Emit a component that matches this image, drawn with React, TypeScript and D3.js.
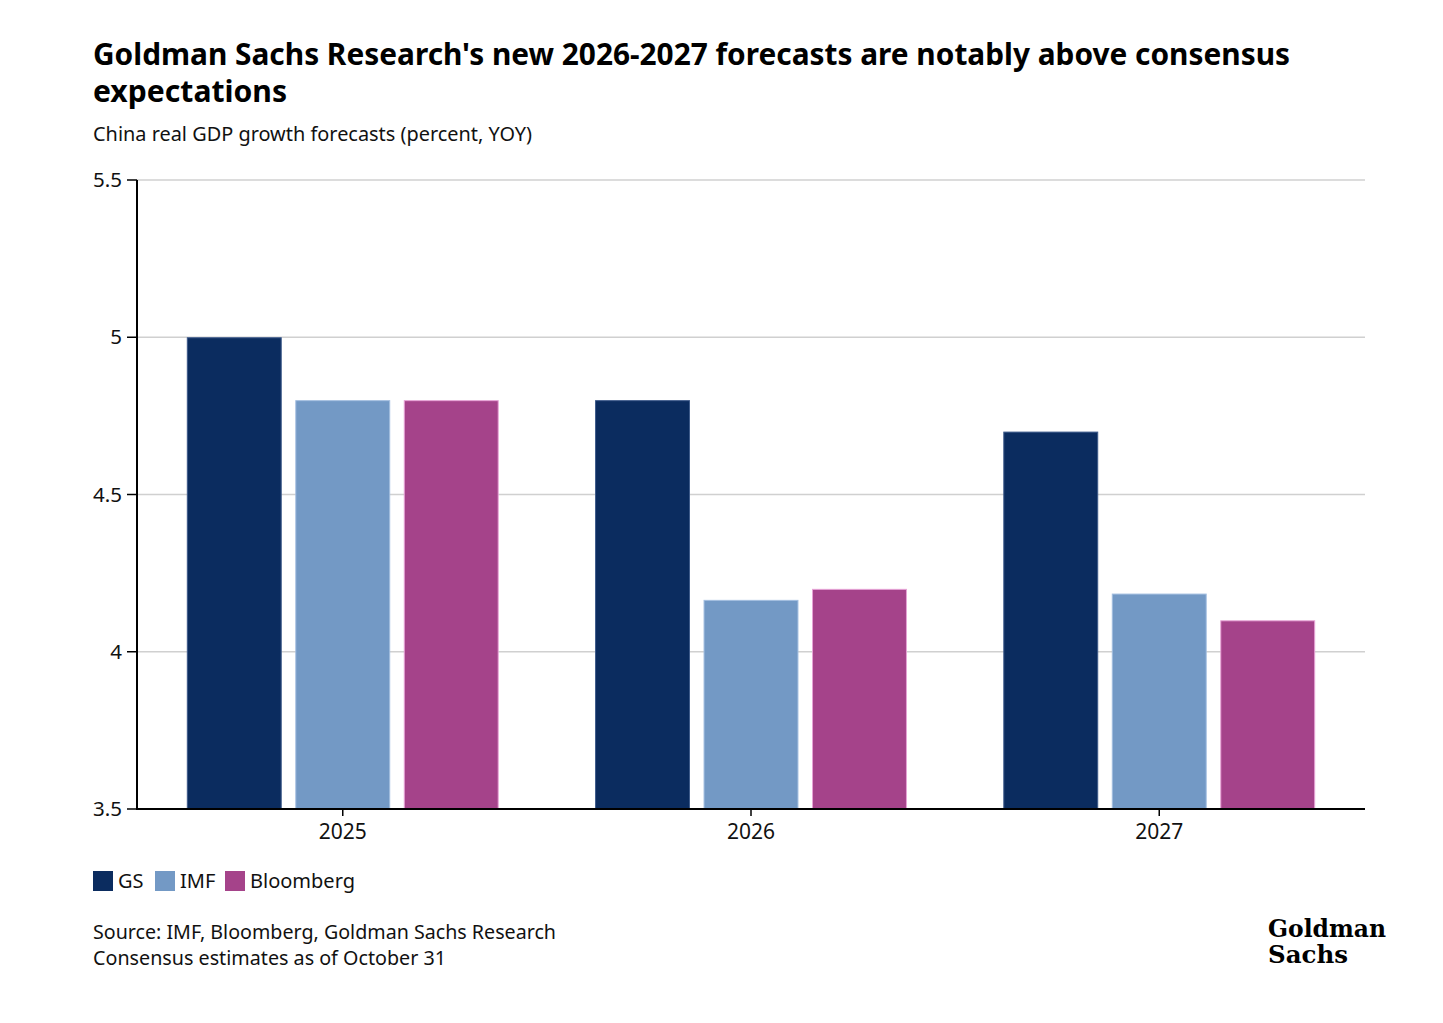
import * as d3 from 'd3';

const years = ['2025', '2026', '2027'];
const seriesNames = ['GS', 'IMF', 'Bloomberg'];
const gsValues = [5.0, 4.8, 4.7];
const imfValues = [4.8, 4.165, 4.185];
const bloombergValues = [4.8, 4.2, 4.1];
const yTicks = [3.5, 4, 4.5, 5, 5.5];

const colours = ['#0b2c5f', '#7399c5', '#a5438a'];
const strokes = ['#3d5a8a', '#a3bee0', '#e7a3d6'];

const W = 1443;
const H = 1023;
const margin = { top: 180, right: 78, bottom: 214, left: 137 };
const font = '"Noto Sans", sans-serif';

export default function App(): JSX.Element {
  const values = [gsValues, imfValues, bloombergValues];

  const x0 = d3.scaleBand<string>()
    .domain(years)
    .range([margin.left, W - margin.right])
    .paddingInner(0.236)
    .paddingOuter(0.122);

  const x1 = d3.scaleBand<string>()
    .domain(seriesNames)
    .range([0, x0.bandwidth()])
    .paddingInner(0.125);

  const y = d3.scaleLinear()
    .domain([3.5, 5.5])
    .range([H - margin.bottom, margin.top]);

  const base = H - margin.bottom;

  // legend label widths (approx, px) to space the swatches
  const legendWidths = [25, 33, 104];

  return (
    <div style={{ position: 'absolute', left: 0, top: 0 }}>
      <svg width={W} height={H} style={{ display: 'block', background: '#fff' }}>
        {/* Title block */}
        <text x={93} y={65} fontFamily={font} fontWeight={700} fontSize={30}
          textLength={1197} lengthAdjust="spacingAndGlyphs" fill="#000">
          Goldman Sachs Research's new 2026-2027 forecasts are notably above consensus
        </text>
        <text x={93} y={102} fontFamily={font} fontWeight={700} fontSize={30}
          textLength={194} lengthAdjust="spacingAndGlyphs" fill="#000">
          expectations
        </text>
        <text x={93} y={141} fontFamily={font} fontSize={20}
          textLength={439} lengthAdjust="spacingAndGlyphs" fill="#111">
          China real GDP growth forecasts (percent, YOY)
        </text>

        {/* Gridlines and y axis */}
        {yTicks.map(t => (
          <g key={t} transform={`translate(0,${y(t)})`}>
            <line x1={margin.left} x2={W - margin.right} stroke="#d0d0d0" strokeWidth={1.5} />
            <line x1={margin.left - 10} x2={margin.left} stroke="#000" strokeWidth={1.5} />
            <text x={margin.left - 15} dy="0.35em" textAnchor="end"
              fontFamily={font} fontSize={20.5} fill="#111">
              {String(t)}
            </text>
          </g>
        ))}

        {/* Bars */}
        {years.map((yr, i) => (
          <g key={yr} transform={`translate(${x0(yr)},0)`}>
            {seriesNames.map((s, j) => {
              const v = values[j][i];
              return (
                <rect
                  key={s}
                  x={(x1(s) ?? 0) + 0.5}
                  y={y(v) + 0.5}
                  width={x1.bandwidth() - 1}
                  height={base - y(v) - 0.5}
                  fill={colours[j]}
                  stroke={strokes[j]}
                  strokeWidth={1}
                />
              );
            })}
          </g>
        ))}

        {/* Axes lines */}
        <line x1={margin.left} x2={margin.left} y1={margin.top} y2={base} stroke="#000" strokeWidth={2} />
        <line x1={margin.left - 1} x2={W - margin.right} y1={base} y2={base} stroke="#000" strokeWidth={2} />
        {years.map(yr => {
          const cx = (x0(yr) ?? 0) + x0.bandwidth() / 2;
          return (
            <g key={yr} transform={`translate(${cx},${base})`}>
              <line y2={7} stroke="#000" strokeWidth={1.5} />
              <text y={30} textAnchor="middle" fontFamily={font} fontSize={21} fill="#111">
                {yr}
              </text>
            </g>
          );
        })}

        {/* Legend */}
        {(() => {
          let lx = 93;
          return seriesNames.map((s, j) => {
            const gx = lx;
            lx += 20 + 5 + legendWidths[j] + 12;
            return (
              <g key={s} transform={`translate(${gx},871)`}>
                <rect width={20} height={20} fill={colours[j]} />
                <text x={25} y={17} fontFamily={font} fontSize={20} fill="#111">{s}</text>
              </g>
            );
          });
        })()}

        {/* Source */}
        <text x={93} y={939} fontFamily={font} fontSize={20}
          textLength={463} lengthAdjust="spacingAndGlyphs" fill="#111">
          Source: IMF, Bloomberg, Goldman Sachs Research
        </text>
        <text x={93} y={965} fontFamily={font} fontSize={20}
          textLength={353} lengthAdjust="spacingAndGlyphs" fill="#111">
          Consensus estimates as of October 31
        </text>

        {/* Logo */}
        <text x={1268} y={937} fontFamily='"DejaVu Serif", serif' fontWeight={700} fontSize={25}
          textLength={118} lengthAdjust="spacingAndGlyphs" fill="#000">
          Goldman
        </text>
        <text x={1268} y={963} fontFamily='"DejaVu Serif", serif' fontWeight={700} fontSize={25}
          textLength={80} lengthAdjust="spacingAndGlyphs" fill="#000">
          Sachs
        </text>
      </svg>
    </div>
  );
}
